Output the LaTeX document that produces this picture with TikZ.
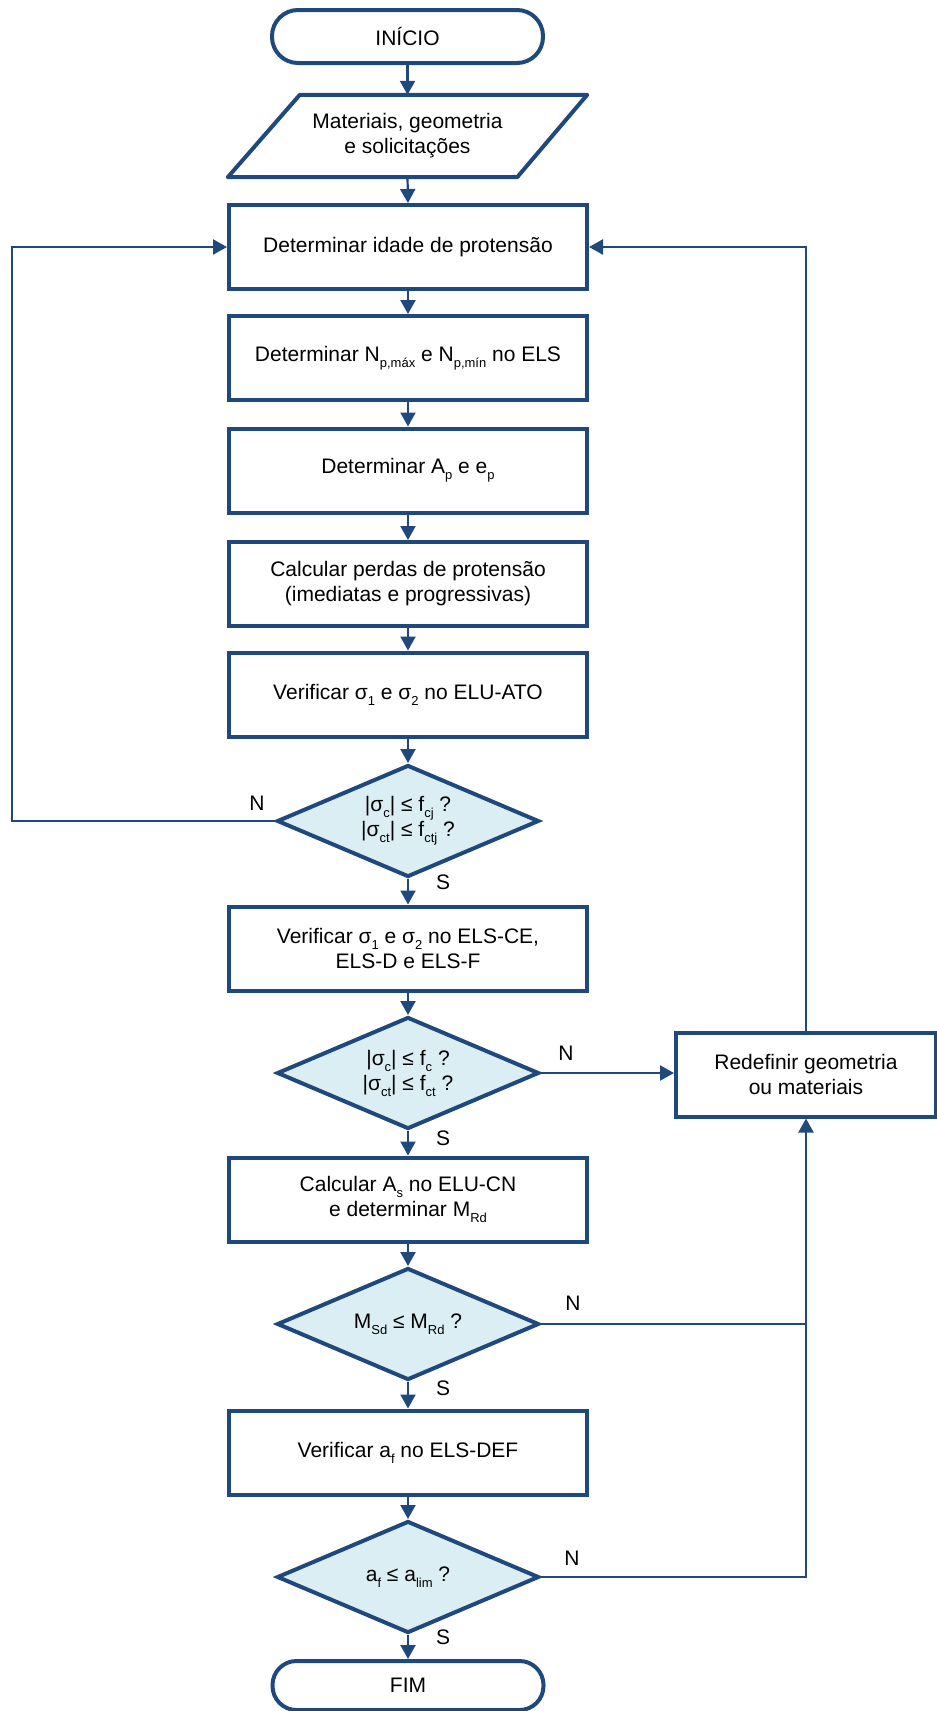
\documentclass[tikz,border=0pt]{standalone}
\usepackage{fontspec}
\setmainfont{Liberation Sans}
\usetikzlibrary{shapes.geometric,arrows.meta,calc}
\definecolor{dkblue}{RGB}{31,73,125}
\definecolor{ltblue}{RGB}{219,238,244}
\newcommand{\sbs}[1]{\raisebox{-6pt}{\fontsize{13}{13}\selectfont #1}}
\begin{document}
\begin{tikzpicture}[x=1pt,y=-1pt,
  every node/.style={font=\fontsize{21}{25}\selectfont, text=black},
  procbox/.style={draw=dkblue, line width=4pt, minimum width=358pt, minimum height=84pt, inner sep=0pt, align=center},
  term/.style={draw=dkblue, line width=4pt, rounded corners=26pt, minimum width=271pt, minimum height=53pt, inner sep=0pt},
  txtbox/.style={inner sep=0pt, align=center},
  decision/.style={diamond, draw=dkblue, fill=ltblue, line width=4pt, minimum width=262pt, minimum height=112pt, inner sep=0pt, align=center, shape aspect=2.34},
  conn/.style={draw=dkblue, line width=2.2pt},
  arr/.style={conn, -{Triangle[length=14pt,width=15pt]}}
]
\useasboundingbox (0,0) rectangle (937,1711);
\fill[white] (0,0) rectangle (937,1711);

\node[term] (ini) at (407.5,36.5) {INÍCIO};
\node[txtbox, minimum width=359pt, minimum height=82pt] (par) at (407.5,136) {Materiais, geometria\\e solicitações};
\draw[dkblue, line width=4pt, line join=round] ($(par.north west)+(72,0)$) -- (par.north east) -- ($(par.south east)+(-70,0)$) -- (par.south west) -- cycle;
\node[procbox] (b1) at (408,247) {Determinar idade de protensão};
\node[procbox] (b2) at (408,358) {Determinar N\sbs{p,máx} e N\sbs{p,mín} no ELS};
\node[procbox] (b3) at (408,470.5) {Determinar A\sbs{p} e e\sbs{p}};
\node[procbox] (b4) at (408,584) {Calcular perdas de protensão\\(imediatas e progressivas)};
\node[procbox] (b5) at (408,694.5) {Verificar σ\sbs{1} e σ\sbs{2} no ELU-ATO};
\node[decision] (d1) at (408,821) {|σ\sbs{c}| ≤ f\sbs{cj} ?\\|σ\sbs{ct}| ≤ f\sbs{ctj} ?};
\node[procbox] (b6) at (408,948.5) {Verificar σ\sbs{1} e σ\sbs{2} no ELS-CE,\\ELS-D e ELS-F};
\node[decision] (d2) at (408,1073) {|σ\sbs{c}| ≤ f\sbs{c} ?\\|σ\sbs{ct}| ≤ f\sbs{ct} ?};
\node[procbox] (b7) at (408,1199.5) {Calcular A\sbs{s} no ELU-CN\\e determinar M\sbs{Rd}};
\node[decision] (d3) at (408,1324) {M\sbs{Sd} ≤ M\sbs{Rd} ?};
\node[procbox] (b8) at (408,1452.5) {Verificar a\sbs{f} no ELS-DEF};
\node[decision] (d4) at (408,1577) {a\sbs{f} ≤ a\sbs{lim} ?};
\node[term, minimum height=49pt, rounded corners=24pt] (fim) at (408,1685.5) {FIM};
\node[procbox, minimum width=260pt] (rd) at (806,1074.5) {Redefinir geometria\\ou materiais};

\node (n1) at (257,803) {N};
\node (s1) at (443,882) {S};
\node (n2) at (566,1053) {N};
\node (s2) at (443,1138) {S};
\node (n3) at (573,1303) {N};
\node (s3) at (443,1388) {S};
\node (n4) at (572,1558) {N};
\node (s4) at (443,1637) {S};

\draw[arr] (ini.south) -- (par.north);
\draw[arr] (par.south) -- (b1.north);
\draw[arr] (b1.south) -- (b2.north);
\draw[arr] (b2.south) -- (b3.north);
\draw[arr] (b3.south) -- (b4.north);
\draw[arr] (b4.south) -- (b5.north);
\draw[arr] (b5.south) -- (d1.north);
\draw[arr] (d1.south) -- (b6.north);
\draw[arr] (b6.south) -- (d2.north);
\draw[arr] (d2.south) -- (b7.north);
\draw[arr] (b7.south) -- (d3.north);
\draw[arr] (d3.south) -- (b8.north);
\draw[arr] (b8.south) -- (d4.north);
\draw[arr] (d4.south) -- (fim.north);

\coordinate (lp) at (12,821);
\draw[arr] (d1.west) -- (lp) |- (b1.west);
\draw[arr] (d2.east) -- (d2.east -| rd.west);
\draw[arr] (rd.north) |- (b1.east);
\draw[conn] (d3.east) -- (d3.east -| rd.south);
\draw[arr] (d4.east) -| (rd.south);
\end{tikzpicture}
\end{document}
